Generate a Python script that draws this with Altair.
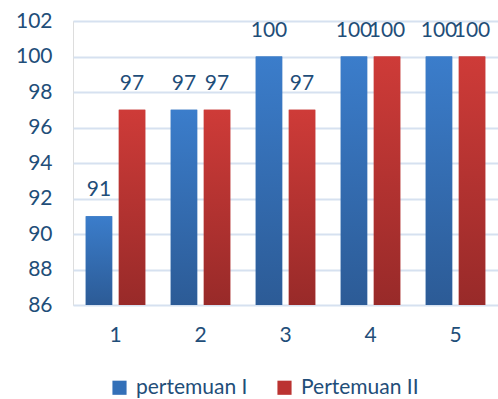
import altair as alt
import pandas as pd

categories = ["1", "2", "3", "4", "5"]
series_names = ["pertemuan I", "Pertemuan II"]
pertemuan_1 = [91, 97, 100, 100, 100]
pertemuan_2 = [97, 97, 97, 100, 100]

rows = []
for c, a, b in zip(categories, pertemuan_1, pertemuan_2):
    rows.append({"cat": c, "series": series_names[0], "value": a})
    rows.append({"cat": c, "series": series_names[1], "value": b})
df = pd.DataFrame(rows)

TXT = "#1F4E79"
FONT = "Lato"
FS = 21

blue_grad = alt.Gradient(gradient="linear", x1=0, x2=0, y1=0, y2=1,
                         stops=[alt.GradientStop(offset=0, color="#3B7DCB"),
                                alt.GradientStop(offset=1, color="#2C5B96")])
red_grad = alt.Gradient(gradient="linear", x1=0, x2=0, y1=0, y2=1,
                        stops=[alt.GradientStop(offset=0, color="#CE3B38"),
                               alt.GradientStop(offset=1, color="#982A29")])

x_enc = alt.X("cat:N", sort=categories, title=None,
              scale=alt.Scale(paddingInner=0.3, paddingOuter=0.15),
              axis=alt.Axis(labelAngle=0, domain=False, ticks=False, labelPadding=19,
                            labelFontSize=FS, labelColor=TXT, labelFont=FONT, grid=False))
y_enc = alt.Y("value:Q", title=None,
              scale=alt.Scale(domain=[86, 102], zero=False, nice=False),
              axis=alt.Axis(values=list(range(86, 103, 2)), domain=False, ticks=False,
                            labelPadding=21, labelFontSize=FS, labelColor=TXT, labelFont=FONT,
                            gridColor="#D6E1F0", gridWidth=2))
xo = alt.XOffset("series:N", sort=series_names,
                 scale=alt.Scale(domain=series_names, paddingInner=0.2))

base = alt.Chart(df)

legend_bars = base.mark_bar().encode(
    x=x_enc, xOffset=xo, y=y_enc, y2=alt.datum(86),
    color=alt.Color("series:N", sort=series_names,
                    scale=alt.Scale(domain=series_names, range=["#3370B8", "#BB3331"]),
                    legend=alt.Legend(title=None, orient="none", legendX=36, legendY=356,
                                      direction="horizontal", symbolType="square",
                                      symbolSize=200, symbolStrokeWidth=0,
                                      labelFontSize=FS, labelColor=TXT, labelFont=FONT,
                                      columnPadding=26, labelOffset=6))
)

blue_bars = base.mark_bar(color=blue_grad).encode(
    x=x_enc, xOffset=xo, y=y_enc, y2=alt.datum(86)
).transform_filter(alt.datum.series == series_names[0])

red_bars = base.mark_bar(color=red_grad).encode(
    x=x_enc, xOffset=xo, y=y_enc, y2=alt.datum(86)
).transform_filter(alt.datum.series == series_names[1])

labels = base.mark_text(dy=-26, baseline="middle", fontSize=FS, color=TXT, font=FONT).encode(
    x=x_enc, xOffset=xo, y=y_enc, text=alt.Text("value:Q")
)

chart = alt.layer(legend_bars, blue_bars, red_bars, labels).properties(
    width=425, height=284,
    autosize=alt.AutoSizeParams(type="none"),
    padding={"left": 73, "top": 21, "right": 0, "bottom": 94},
).configure_view(stroke=None).configure(background="white")

chart.save("out.html", embed_options={"renderer": "svg", "actions": False})
